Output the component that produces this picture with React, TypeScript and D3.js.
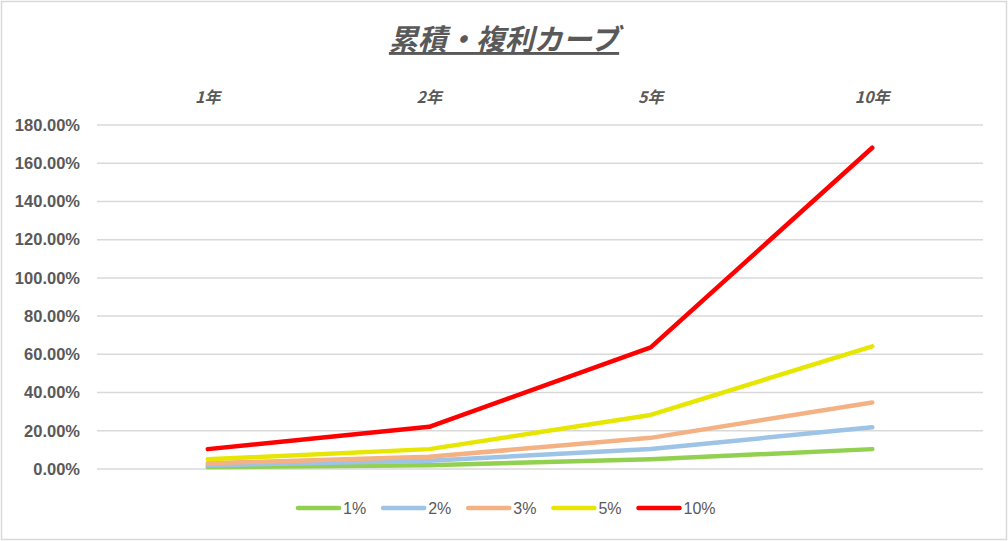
import { FC, useEffect, useRef } from 'react';
import * as d3 from 'd3';

const categories = ['1年', '2年', '5年', '10年'];
const seriesNames = ['1%', '2%', '3%', '5%', '10%'];
const rate1 = [1.0, 2.0, 5.1, 10.4];
const rate2 = [2.0, 4.3, 10.5, 21.8];
const rate3 = [3.0, 6.4, 16.3, 34.8];
const rate5 = [5.1, 10.4, 28.3, 64.2];
const rate10 = [10.4, 22.1, 63.6, 168.1];
const yTicks = [0, 20, 40, 60, 80, 100, 120, 140, 160, 180];

const seriesValues = [rate1, rate2, rate3, rate5, rate10];
const colors = ['#92D050', '#9DC3E6', '#F4B183', '#E6E600', '#FF0000'];

const W = 1008;
const H = 541;

const App: FC = () => {
  const svgRef = useRef<SVGSVGElement>(null);

  useEffect(() => {
    document.body.style.margin = '0';
    if (!svgRef.current) return;

    const svg = d3.select(svgRef.current);
    svg.selectAll('*').remove();

    const margin = { top: 125, right: 25, bottom: 72, left: 97 };
    const innerWidth = W - margin.left - margin.right;
    const innerHeight = H - margin.top - margin.bottom;
    const textColor = '#595959';
    const font = '"Liberation Sans", Arial, sans-serif';

    // background + border
    svg.append('rect').attr('width', W).attr('height', H).attr('fill', '#fff');
    svg
      .append('rect')
      .attr('x', 1.5)
      .attr('y', 1.5)
      .attr('width', W - 3)
      .attr('height', H - 3)
      .attr('fill', 'none')
      .attr('stroke', '#d9d9d9')
      .attr('stroke-width', 1.5);

    // title
    svg
      .append('text')
      .attr('x', W / 2)
      .attr('y', 50)
      .attr('text-anchor', 'middle')
      .style('font-family', '"Noto Sans CJK JP", sans-serif')
      .style('font-size', '29px')
      .style('font-weight', 'bold')
      .style('font-style', 'italic')
      .style('text-decoration', 'underline')
      .attr('fill', textColor)
      .text('累積・複利カーブ');

    const x = d3.scaleBand().domain(categories).range([0, innerWidth]);
    const y = d3.scaleLinear().domain([0, 180]).range([innerHeight, 0]);

    const g = svg.append('g').attr('transform', `translate(${margin.left},${margin.top})`);

    // gridlines
    g.selectAll('.grid')
      .data(yTicks)
      .enter()
      .append('line')
      .attr('x1', 0)
      .attr('x2', innerWidth)
      .attr('y1', (d) => y(d))
      .attr('y2', (d) => y(d))
      .attr('stroke', '#d9d9d9')
      .attr('stroke-width', 1.5);

    // y labels
    g.selectAll('.ylabel')
      .data(yTicks)
      .enter()
      .append('text')
      .attr('x', -17)
      .attr('y', (d) => y(d))
      .attr('dy', '0.35em')
      .attr('text-anchor', 'end')
      .style('font-family', font)
      .style('font-size', '16.5px')
      .style('font-weight', 'bold')
      .attr('fill', textColor)
      .text((d) => d3.format('.2f')(d) + '%');

    // category labels at top
    g.selectAll('.xlabel')
      .data(categories)
      .enter()
      .append('text')
      .attr('x', (d) => (x(d) || 0) + x.bandwidth() / 2)
      .attr('y', -22)
      .attr('text-anchor', 'middle')
      .style('font-family', '"Noto Sans CJK JP", sans-serif')
      .style('font-size', '16px')
      .style('font-weight', 'bold')
      .style('font-style', 'italic')
      .attr('fill', textColor)
      .text((d) => d);

    // lines
    const line = d3
      .line<number>()
      .x((_d, i) => (x(categories[i]) || 0) + x.bandwidth() / 2)
      .y((d) => y(d));

    seriesValues.forEach((vals, i) => {
      g.append('path')
        .datum(vals)
        .attr('d', line)
        .attr('fill', 'none')
        .attr('stroke', colors[i])
        .attr('stroke-width', 4.5)
        .attr('stroke-linecap', 'round')
        .attr('stroke-linejoin', 'round');
    });

    // legend
    const legend = svg.append('g').attr('transform', `translate(0, 508)`);
    let cursor = 296;
    seriesNames.forEach((name, i) => {
      const item = legend.append('g').attr('transform', `translate(${cursor},0)`);
      item
        .append('line')
        .attr('x1', 2)
        .attr('x2', 43)
        .attr('y1', 0)
        .attr('y2', 0)
        .attr('stroke', colors[i])
        .attr('stroke-width', 4.5)
        .attr('stroke-linecap', 'round');
      const t = item
        .append('text')
        .attr('x', 47)
        .attr('y', 0)
        .attr('dy', '0.35em')
        .style('font-family', font)
        .style('font-size', '16px')
        .attr('fill', textColor)
        .text(name);
      const tw = (t.node() as SVGTextElement).getComputedTextLength();
      cursor += 47 + tw + 15;
    });
  }, []);

  return (
    <div>
      <svg ref={svgRef} width={W} height={H} style={{ display: 'block' }} />
    </div>
  );
};

export default App;
